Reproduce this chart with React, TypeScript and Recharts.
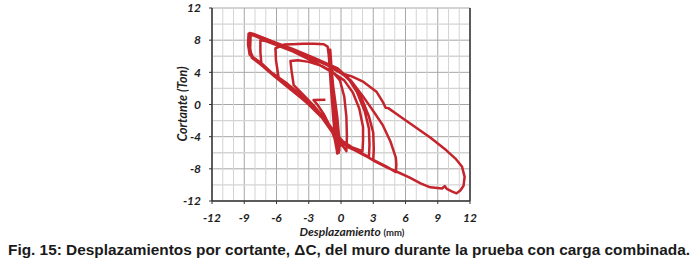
import React from 'react';
import { LineChart, Line, XAxis, YAxis, CartesianGrid, ReferenceLine } from 'recharts';

type Punto = [number, number];

// desplazamiento (mm), cortante (Ton), en el orden del ensaye
const inicio: Punto[] = [
  [-1.45, 0.6], [-2.55, 0.55], [-2.2, 0.0], [-1.6, -1.2], [-1.0, -2.8],
  [-0.6, -4.2], [-0.4, -5.6], [-0.35, -6.1],
];

const elasticos: Punto[] = [
  [-0.5, -4.5], [-0.7, -2.0], [-0.9, 1.5], [-1.05, 4.5], [-1.15, 6.6],
  [-1.0, 4.0], [-0.8, 0.5], [-0.55, -3.0], [-0.3, -5.5], [-0.25, -5.9],
  [-0.45, -3.5], [-0.7, 0.0], [-0.95, 3.5], [-1.2, 7.0],
  [-0.95, 3.2], [-0.65, -1.0], [-0.4, -4.5], [-0.2, -6.0],
  [-0.55, -2.5], [-0.9, 2.5], [-1.1, 6.0], [-1.0, 6.8],
  [-0.75, 2.0], [-0.5, -2.0], [-0.3, -4.8], [-0.15, -5.7],
  [-0.4, -3.0], [-0.6, 0.5], [-0.85, 4.0], [-1.05, 6.4],
  [-0.8, 1.5], [-0.45, -3.8], [-0.1, -5.2],
  [-0.35, -1.5], [-0.8, 3.0], [-1.25, 7.2],
];

const ciclo1: Punto[] = [
  [-1.6, 7.5], [-2.5, 7.55], [-3.5, 7.55], [-4.5, 7.5], [-5.3, 7.45], [-5.7, 7.2], [-6.1, 7.0],
  [-6.05, 5.5], [-5.9, 4.2], [-5.8, 3.3], [-5.0, 2.4], [-4.0, 1.3], [-3.0, 0.2], [-2.0, -1.2],
  [-1.0, -3.0], [-0.2, -4.6], [0.3, -5.4], [0.5, -5.8],
  [0.55, -4.0], [0.5, -1.5], [0.3, 1.0], [-0.1, 3.0], [-0.8, 4.1], [-1.8, 4.8], [-3.0, 5.3],
  [-4.0, 5.5], [-4.7, 5.4],
];

const ciclo2: Punto[] = [
  [-4.6, 4.2], [-4.4, 2.4], [-3.5, 1.2], [-2.5, -0.2], [-1.5, -1.8], [-0.6, -3.4], [0.2, -4.6],
  [1.0, -5.3], [2.0, -5.8],
  [2.05, -4.5], [2.05, -2.8], [1.7, -0.5], [1.1, 1.5], [0.3, 3.0], [-0.8, 4.0], [-2.5, 5.3],
  [-4.5, 6.6], [-6.0, 7.4], [-7.0, 7.9], [-7.5, 8.0],
];

const ciclo3: Punto[] = [
  [-7.5, 6.5], [-7.4, 5.0], [-6.5, 4.0], [-5.0, 2.6], [-3.5, 0.9], [-2.2, -0.8], [-1.2, -2.6],
  [-0.3, -4.2], [0.8, -5.4], [1.8, -6.0], [2.6, -6.5],
  [2.65, -5.0], [2.6, -3.0], [2.2, -0.8], [1.5, 1.5], [0.7, 3.2], [-0.6, 4.5], [-3.0, 5.9],
  [-5.0, 7.1], [-7.0, 8.2], [-8.2, 8.8], [-8.5, 8.9],
];

const ciclo4: Punto[] = [
  [-8.55, 7.8], [-8.4, 6.5], [-8.2, 5.9], [-7.2, 4.9], [-6.0, 3.4], [-4.5, 1.8], [-3.2, 0.4],
  [-2.0, -1.2], [-0.9, -3.2], [0.0, -4.6], [1.0, -5.5], [2.0, -6.2], [3.0, -6.9],
  [3.05, -5.5], [3.0, -3.5], [2.6, -1.5], [2.0, 0.5], [1.1, 2.6], [0.0, 4.0], [-2.0, 5.4],
  [-4.0, 6.5], [-6.0, 7.6], [-7.8, 8.4], [-8.6, 8.8],
];

const ciclo5: Punto[] = [
  [-8.65, 7.5], [-8.5, 6.2], [-8.0, 5.6], [-7.0, 4.6], [-5.8, 3.1], [-4.3, 1.5], [-3.0, 0.0],
  [-1.8, -1.6], [-0.8, -3.5], [0.2, -4.9], [1.5, -5.8], [3.0, -6.9], [4.2, -7.7], [5.1, -8.4],
  [5.15, -7.5], [5.1, -6.6], [4.6, -4.6], [3.9, -2.6], [3.0, -0.8], [2.0, 1.1], [0.9, 3.0],
  [-0.3, 4.5], [-2.5, 5.8], [-4.5, 6.9], [-6.5, 7.9], [-8.0, 8.6], [-8.4, 8.7],
];

const ciclo6: Punto[] = [
  [-8.45, 7.0], [-8.3, 5.8], [-7.5, 5.0], [-6.2, 3.5], [-4.8, 2.0], [-3.5, 0.6], [-2.3, -0.7],
  [-1.4, -2.3], [-0.6, -3.8], [0.4, -5.0], [1.8, -6.0], [3.2, -7.1], [4.4, -7.9], [5.1, -8.3],
  [6.4, -9.1], [7.4, -9.8], [8.3, -10.3], [9.4, -10.45], [9.65, -10.15], [9.85, -10.5],
  [10.3, -10.8], [10.75, -11.05], [11.1, -10.7], [11.4, -10.1], [11.5, -9.0], [11.25, -7.7],
  [10.7, -6.8], [9.8, -5.7], [8.3, -4.1], [6.7, -2.6], [5.4, -1.4], [4.4, -0.45], [4.15, -0.4],
  [3.9, 0.3], [3.3, 1.6], [2.1, 2.8], [1.0, 3.5], [-0.1, 3.95], [-0.8, 4.5],
];

const ticksX = [-12, -9, -6, -3, 0, 3, 6, 9, 12];
const ticksY = [-12, -8, -4, 0, 4, 8, 12];
// lineas menores de la reticula (entre las principales)
const menoresX = [-11, -10, -8, -7, -5, -4, -2, -1, 1, 2, 4, 5, 7, 8, 10, 11];
const menoresY = [-10, -6, -2, 2, 6, 10];

const puntos = [inicio, elasticos, ciclo1, ciclo2, ciclo3, ciclo4, ciclo5, ciclo6]
  .flat()
  .map(([d, v]) => ({ d, v }));

const tickStyle = {
  fontFamily: 'Lato, sans-serif',
  fontStyle: 'italic',
  fontWeight: 700,
  fontSize: 12,
  fill: '#1e1e1e',
};

export default function App() {
  return (
    <div style={{ position: 'relative', width: 696, height: 264, background: '#fff' }}>
      <style>{'body{margin:0}'}</style>
      <LineChart width={696} height={264} data={puntos} margin={{ top: 8, right: 226, bottom: 33, left: 172 }}>
        <CartesianGrid stroke="#a6a6a6" strokeWidth={1} />
        {menoresX.map((x) => (
          <ReferenceLine key={'x' + x} x={x} stroke="#d4d4d4" strokeWidth={1} />
        ))}
        {menoresY.map((y) => (
          <ReferenceLine key={'y' + y} y={y} stroke="#d4d4d4" strokeWidth={1.3} />
        ))}
        <XAxis
          dataKey="d"
          type="number"
          domain={[-12, 12]}
          ticks={ticksX}
          allowDataOverflow
          tick={tickStyle}
          tickSize={3}
          tickMargin={9}
          axisLine={{ stroke: '#333', strokeWidth: 1.5 }}
          tickLine={{ stroke: '#333' }}
        />
        <YAxis
          type="number"
          domain={[-12, 12]}
          ticks={ticksY}
          allowDataOverflow
          width={40}
          tick={tickStyle}
          tickSize={3}
          tickMargin={8}
          axisLine={{ stroke: '#333', strokeWidth: 1.5 }}
          tickLine={{ stroke: '#333' }}
        />
        <ReferenceLine x={12} stroke="#333" strokeWidth={1.5} />
        <Line
          dataKey="v"
          type="linear"
          stroke="#c4242b"
          strokeWidth={2.5}
          strokeLinejoin="round"
          dot={false}
          activeDot={false}
          isAnimationActive={false}
        />
      </LineChart>
      <svg width={696} height={264} style={{ position: 'absolute', left: 0, top: 0, pointerEvents: 'none' }}>
        <text
          transform="translate(186.5,104) rotate(-90)"
          textAnchor="middle"
          fontFamily="Lato, sans-serif"
          fontStyle="italic"
          fontWeight={700}
          fontSize={12.5}
          fill="#1e1e1e"
        >
          Cortante (Ton)
        </text>
        <text x={352} y={236} textAnchor="middle" fontFamily="Lato, sans-serif" fontWeight={700} fill="#1e1e1e">
          <tspan fontStyle="italic" fontSize={12}>Desplazamiento </tspan>
          <tspan fontSize={9.5}>(mm)</tspan>
        </text>
        <text
          x={8}
          y={255}
          textLength={682}
          lengthAdjust="spacingAndGlyphs"
          fontFamily="'Liberation Sans', Arial, sans-serif"
          fontWeight={700}
          fontSize={14}
          fill="#1a1a1a"
        >
          Fig. 15: Desplazamientos por cortante, ΔC, del muro durante la prueba con carga combinada.
        </text>
      </svg>
    </div>
  );
}
